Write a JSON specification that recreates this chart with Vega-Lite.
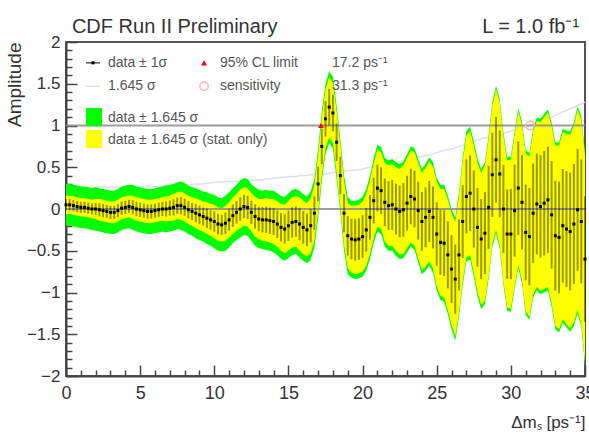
{
  "$schema": "https://vega.github.io/schema/vega-lite/v6.json",
  "width": 519,
  "height": 334,
  "autosize": {"type": "none"},
  "padding": {"left": 66, "top": 42, "right": 4, "bottom": 61},
  "background": "white",
  "config": {
    "view": {"stroke": "#555555", "strokeWidth": 2},
    "font": "Liberation Sans",
    "axisX": {"labelOverlap": false, "labelFlush": false, "labelBound": false, "labelFontSize": 18, "labelColor": "#333333", "labelPadding": 19, "tickColor": "#444444", "tickWidth": 1.5, "domainColor": "#444444", "domainWidth": 2, "grid": false, "titleFontSize": 17, "titleFontWeight": "normal", "titleColor": "#333333"},
    "axisY": {"labelOverlap": false, "labelFlush": false, "labelBound": false, "labelFontSize": 17, "labelColor": "#333333", "labelPadding": 17, "tickColor": "#444444", "tickWidth": 1.5, "domainColor": "#444444", "domainWidth": 2, "grid": false, "titleFontSize": 19, "titleFontWeight": "normal", "titleColor": "#333333"}
  },
  "datasets": {
    "scan": [
      {"d":0,"a":0.05,"g":0.25,"s":0.11,"e":0.067},
      {"d":0.25,"a":0.05,"g":0.25,"s":0.11,"e":0.067},
      {"d":0.5,"a":0.04,"g":0.25,"s":0.11,"e":0.067},
      {"d":0.75,"a":0.03,"g":0.25,"s":0.11,"e":0.067},
      {"d":1,"a":0.02,"g":0.25,"s":0.11,"e":0.067},
      {"d":1.25,"a":0.02,"g":0.25,"s":0.11,"e":0.067},
      {"d":1.5,"a":0.01,"g":0.25,"s":0.11,"e":0.067},
      {"d":1.75,"a":0.0,"g":0.25,"s":0.11,"e":0.067},
      {"d":2,"a":0.0,"g":0.26,"s":0.12,"e":0.073},
      {"d":2.25,"a":-0.01,"g":0.26,"s":0.13,"e":0.079},
      {"d":2.5,"a":-0.02,"g":0.26,"s":0.13,"e":0.079},
      {"d":2.75,"a":-0.03,"g":0.26,"s":0.13,"e":0.079},
      {"d":3,"a":-0.04,"g":0.26,"s":0.13,"e":0.079},
      {"d":3.25,"a":-0.04,"g":0.26,"s":0.13,"e":0.079},
      {"d":3.5,"a":-0.02,"g":0.26,"s":0.13,"e":0.079},
      {"d":3.75,"a":0.01,"g":0.26,"s":0.13,"e":0.079},
      {"d":4,"a":0.02,"g":0.26,"s":0.13,"e":0.079},
      {"d":4.25,"a":0.03,"g":0.26,"s":0.13,"e":0.079},
      {"d":4.5,"a":0.02,"g":0.27,"s":0.14,"e":0.085},
      {"d":4.75,"a":0.0,"g":0.27,"s":0.14,"e":0.085},
      {"d":5,"a":-0.01,"g":0.27,"s":0.14,"e":0.085},
      {"d":5.25,"a":-0.02,"g":0.27,"s":0.14,"e":0.085},
      {"d":5.5,"a":-0.03,"g":0.27,"s":0.14,"e":0.085},
      {"d":5.75,"a":-0.03,"g":0.27,"s":0.14,"e":0.085},
      {"d":6,"a":-0.02,"g":0.27,"s":0.14,"e":0.085},
      {"d":6.25,"a":-0.01,"g":0.27,"s":0.14,"e":0.085},
      {"d":6.5,"a":0.0,"g":0.27,"s":0.14,"e":0.085},
      {"d":6.75,"a":0.0,"g":0.28,"s":0.15,"e":0.091},
      {"d":7,"a":0.01,"g":0.28,"s":0.15,"e":0.091},
      {"d":7.25,"a":0.02,"g":0.28,"s":0.16,"e":0.097},
      {"d":7.5,"a":0.04,"g":0.28,"s":0.16,"e":0.097},
      {"d":7.75,"a":0.04,"g":0.29,"s":0.17,"e":0.103},
      {"d":8,"a":0.02,"g":0.29,"s":0.17,"e":0.103},
      {"d":8.25,"a":-0.01,"g":0.29,"s":0.17,"e":0.103},
      {"d":8.5,"a":-0.03,"g":0.29,"s":0.17,"e":0.103},
      {"d":8.75,"a":-0.05,"g":0.30,"s":0.18,"e":0.109},
      {"d":9,"a":-0.07,"g":0.30,"s":0.18,"e":0.109},
      {"d":9.25,"a":-0.09,"g":0.30,"s":0.18,"e":0.109},
      {"d":9.5,"a":-0.11,"g":0.31,"s":0.19,"e":0.116},
      {"d":9.75,"a":-0.13,"g":0.31,"s":0.19,"e":0.116},
      {"d":10,"a":-0.15,"g":0.32,"s":0.20,"e":0.122},
      {"d":10.25,"a":-0.18,"g":0.32,"s":0.20,"e":0.122},
      {"d":10.5,"a":-0.19,"g":0.32,"s":0.20,"e":0.122},
      {"d":10.75,"a":-0.17,"g":0.33,"s":0.21,"e":0.128},
      {"d":11,"a":-0.13,"g":0.33,"s":0.21,"e":0.128},
      {"d":11.25,"a":-0.08,"g":0.33,"s":0.22,"e":0.134},
      {"d":11.5,"a":-0.04,"g":0.33,"s":0.22,"e":0.134},
      {"d":11.75,"a":0.0,"g":0.34,"s":0.23,"e":0.14},
      {"d":12,"a":0.03,"g":0.34,"s":0.23,"e":0.14},
      {"d":12.25,"a":0.02,"g":0.34,"s":0.23,"e":0.14},
      {"d":12.5,"a":-0.04,"g":0.34,"s":0.23,"e":0.14},
      {"d":12.75,"a":-0.09,"g":0.35,"s":0.24,"e":0.146},
      {"d":13,"a":-0.12,"g":0.35,"s":0.24,"e":0.146},
      {"d":13.25,"a":-0.13,"g":0.35,"s":0.25,"e":0.152},
      {"d":13.5,"a":-0.13,"g":0.36,"s":0.26,"e":0.158},
      {"d":13.75,"a":-0.14,"g":0.36,"s":0.26,"e":0.158},
      {"d":14,"a":-0.15,"g":0.37,"s":0.27,"e":0.164},
      {"d":14.25,"a":-0.18,"g":0.37,"s":0.27,"e":0.164},
      {"d":14.5,"a":-0.22,"g":0.38,"s":0.28,"e":0.17},
      {"d":14.75,"a":-0.24,"g":0.38,"s":0.29,"e":0.176},
      {"d":15,"a":-0.2,"g":0.39,"s":0.30,"e":0.182},
      {"d":15.25,"a":-0.16,"g":0.39,"s":0.30,"e":0.182},
      {"d":15.5,"a":-0.15,"g":0.39,"s":0.30,"e":0.182},
      {"d":15.75,"a":-0.18,"g":0.40,"s":0.32,"e":0.195},
      {"d":16,"a":-0.22,"g":0.40,"s":0.32,"e":0.195},
      {"d":16.25,"a":-0.25,"g":0.40,"s":0.32,"e":0.195},
      {"d":16.5,"a":-0.2,"g":0.41,"s":0.33,"e":0.2},
      {"d":16.75,"a":-0.05,"g":0.41,"s":0.33,"e":0.2},
      {"d":17,"a":0.3,"g":0.42,"s":0.34,"e":0.207},
      {"d":17.25,"a":0.75,"g":0.42,"s":0.35,"e":0.213},
      {"d":17.5,"a":1.08,"g":0.42,"s":0.35,"e":0.213},
      {"d":17.75,"a":1.22,"g":0.43,"s":0.36,"e":0.219},
      {"d":18,"a":1.15,"g":0.43,"s":0.36,"e":0.219},
      {"d":18.25,"a":0.8,"g":0.44,"s":0.37,"e":0.225},
      {"d":18.5,"a":0.4,"g":0.44,"s":0.37,"e":0.225},
      {"d":18.75,"a":-0.05,"g":0.45,"s":0.38,"e":0.231},
      {"d":19,"a":-0.32,"g":0.46,"s":0.39,"e":0.237},
      {"d":19.25,"a":-0.36,"g":0.46,"s":0.40,"e":0.243},
      {"d":19.5,"a":-0.37,"g":0.47,"s":0.41,"e":0.249},
      {"d":19.75,"a":-0.36,"g":0.47,"s":0.41,"e":0.249},
      {"d":20,"a":-0.33,"g":0.48,"s":0.42,"e":0.255},
      {"d":20.25,"a":-0.25,"g":0.49,"s":0.43,"e":0.261},
      {"d":20.5,"a":-0.1,"g":0.50,"s":0.44,"e":0.267},
      {"d":20.75,"a":0.1,"g":0.51,"s":0.45,"e":0.274},
      {"d":21,"a":0.25,"g":0.52,"s":0.46,"e":0.28},
      {"d":21.25,"a":0.22,"g":0.52,"s":0.46,"e":0.28},
      {"d":21.5,"a":0.08,"g":0.53,"s":0.47,"e":0.286},
      {"d":21.75,"a":0.04,"g":0.54,"s":0.48,"e":0.292},
      {"d":22,"a":0.05,"g":0.55,"s":0.49,"e":0.298},
      {"d":22.25,"a":0.0,"g":0.56,"s":0.50,"e":0.304},
      {"d":22.5,"a":-0.03,"g":0.57,"s":0.51,"e":0.31},
      {"d":22.75,"a":-0.01,"g":0.58,"s":0.53,"e":0.322},
      {"d":23,"a":0.07,"g":0.59,"s":0.54,"e":0.328},
      {"d":23.25,"a":0.15,"g":0.60,"s":0.55,"e":0.334},
      {"d":23.5,"a":0.12,"g":0.61,"s":0.56,"e":0.34},
      {"d":23.75,"a":-0.02,"g":0.62,"s":0.57,"e":0.347},
      {"d":24,"a":-0.15,"g":0.63,"s":0.58,"e":0.353},
      {"d":24.25,"a":-0.1,"g":0.64,"s":0.59,"e":0.359},
      {"d":24.5,"a":-0.03,"g":0.65,"s":0.60,"e":0.365},
      {"d":24.75,"a":-0.1,"g":0.66,"s":0.61,"e":0.371},
      {"d":25,"a":-0.3,"g":0.675,"s":0.625,"e":0.38},
      {"d":25.25,"a":-0.4,"g":0.69,"s":0.64,"e":0.389},
      {"d":25.5,"a":-0.41,"g":0.70,"s":0.65,"e":0.395},
      {"d":25.75,"a":-0.55,"g":0.71,"s":0.66,"e":0.401},
      {"d":26,"a":-0.72,"g":0.72,"s":0.67,"e":0.407},
      {"d":26.25,"a":-0.84,"g":0.735,"s":0.685,"e":0.416},
      {"d":26.5,"a":-0.55,"g":0.75,"s":0.70,"e":0.426},
      {"d":26.75,"a":-0.15,"g":0.765,"s":0.715,"e":0.435},
      {"d":27,"a":0.15,"g":0.78,"s":0.73,"e":0.444},
      {"d":27.25,"a":0.19,"g":0.795,"s":0.745,"e":0.453},
      {"d":27.5,"a":0.0,"g":0.81,"s":0.76,"e":0.462},
      {"d":27.75,"a":-0.22,"g":0.825,"s":0.775,"e":0.471},
      {"d":28,"a":-0.36,"g":0.84,"s":0.79,"e":0.48},
      {"d":28.25,"a":-0.29,"g":0.85,"s":0.81,"e":0.492},
      {"d":28.5,"a":0.02,"g":0.86,"s":0.82,"e":0.498},
      {"d":28.75,"a":0.41,"g":0.87,"s":0.83,"e":0.505},
      {"d":29,"a":0.59,"g":0.885,"s":0.845,"e":0.514},
      {"d":29.25,"a":0.42,"g":0.895,"s":0.855,"e":0.52},
      {"d":29.5,"a":0.0,"g":0.91,"s":0.87,"e":0.529},
      {"d":29.75,"a":-0.3,"g":0.92,"s":0.88,"e":0.535},
      {"d":30,"a":-0.3,"g":0.93,"s":0.89,"e":0.541},
      {"d":30.25,"a":-0.02,"g":0.945,"s":0.905,"e":0.55},
      {"d":30.5,"a":0.25,"g":0.96,"s":0.92,"e":0.559},
      {"d":30.75,"a":0.08,"g":0.97,"s":0.93,"e":0.565},
      {"d":31,"a":-0.28,"g":0.985,"s":0.945,"e":0.574},
      {"d":31.25,"a":-0.33,"g":1.0,"s":0.96,"e":0.584},
      {"d":31.5,"a":-0.05,"g":1.017,"s":0.977,"e":0.594},
      {"d":31.75,"a":0.06,"g":1.033,"s":0.993,"e":0.604},
      {"d":32,"a":0.03,"g":1.05,"s":1.01,"e":0.614},
      {"d":32.25,"a":0.07,"g":1.07,"s":1.03,"e":0.626},
      {"d":32.5,"a":0.11,"g":1.085,"s":1.045,"e":0.635},
      {"d":32.75,"a":-0.07,"g":1.10,"s":1.06,"e":0.644},
      {"d":33,"a":-0.32,"g":1.12,"s":1.08,"e":0.657},
      {"d":33.25,"a":-0.34,"g":1.14,"s":1.10,"e":0.669},
      {"d":33.5,"a":-0.2,"g":1.16,"s":1.12,"e":0.681},
      {"d":33.75,"a":-0.24,"g":1.18,"s":1.14,"e":0.693},
      {"d":34,"a":-0.27,"g":1.20,"s":1.16,"e":0.705},
      {"d":34.25,"a":-0.18,"g":1.22,"s":1.18,"e":0.717},
      {"d":34.5,"a":-0.01,"g":1.24,"s":1.20,"e":0.729},
      {"d":34.75,"a":-0.15,"g":1.26,"s":1.22,"e":0.742},
      {"d":35,"a":-0.6,"g":1.28,"s":1.24,"e":0.754}
    ],
    "hl": [{"v": 0}, {"v": 1}],
    "legtext": [
      {"x": 2.83, "y": 1.75, "t": "data ± 1σ"},
      {"x": 2.83, "y": 1.47, "t": "1.645 σ"},
      {"x": 2.83, "y": 1.09, "t": "data ± 1.645 σ"},
      {"x": 2.83, "y": 0.83, "t": "data ± 1.645 σ (stat. only)"},
      {"x": 10.38, "y": 1.75, "t": "95% CL limit"},
      {"x": 10.38, "y": 1.47, "t": "sensitivity"},
      {"x": 17.94, "y": 1.75, "t": "17.2 ps⁻¹"},
      {"x": 17.94, "y": 1.47, "t": "31.3 ps⁻¹"}
    ]
  },
  "layer": [
    {
      "data": {"name": "scan"},
      "mark": {"type": "line", "color": "#dadef0", "strokeWidth": 1.5},
      "encoding": {
        "x": {"field": "d", "type": "quantitative", "title": "Δmₛ [ps⁻¹]", "scale": {"domain": [0, 35], "nice": false, "zero": false},
          "axis": {"title": "Δmₛ [ps⁻¹]", "titleAnchor": "end", "titlePadding": 7, "tickCount": 200,
            "values": [0,1,2,3,4,5,6,7,8,9,10,11,12,13,14,15,16,17,18,19,20,21,22,23,24,25,26,27,28,29,30,31,32,33,34,35],
            "format": "~g", "labelExpr": "datum.value % 5 === 0 ? datum.label : ''", "labelOverlap": false,
            "tickSize": {"condition": {"test": "datum.value % 5 === 0", "value": -11}, "value": -6}}},
        "y": {"field": "g", "type": "quantitative", "title": "Amplitude", "scale": {"domain": [-2, 2], "nice": false, "zero": false},
          "axis": {"title": "Amplitude", "titleAnchor": "end", "titleX": -42, "titleY": 0, "titleAlign": "right", "titleBaseline": "bottom", "tickCount": 200,
            "values": [-2,-1.9,-1.8,-1.7,-1.6,-1.5,-1.4,-1.3,-1.2,-1.1,-1,-0.9,-0.8,-0.7,-0.6,-0.5,-0.4,-0.3,-0.2,-0.1,0,0.1,0.2,0.3,0.4,0.5,0.6,0.7,0.8,0.9,1,1.1,1.2,1.3,1.4,1.5,1.6,1.7,1.8,1.9,2],
            "format": "~g", "labelExpr": "abs(datum.value*2 - round(datum.value*2)) < 0.01 ? datum.label : ''", "labelOverlap": false,
            "tickSize": {"condition": {"test": "abs(datum.value*2 - round(datum.value*2)) < 0.01", "value": -11}, "value": -6}}}
      }
    },
    {
      "data": {"name": "scan"},
      "mark": {"type": "errorband", "borders": false, "color": "#00ff00", "band": {"color": "#00ff00", "opacity": 1}},
      "encoding": {
        "x": {"field": "d", "type": "quantitative", "title": "Δmₛ [ps⁻¹]"},
        "y": {"field": "a", "type": "quantitative", "title": "Amplitude"},
        "yError": {"field": "g"}
      }
    },
    {
      "data": {"name": "scan"},
      "mark": {"type": "errorband", "borders": false, "color": "#ffff00", "band": {"color": "#ffff00", "opacity": 1}},
      "encoding": {
        "x": {"field": "d", "type": "quantitative", "title": "Δmₛ [ps⁻¹]"},
        "y": {"field": "a", "type": "quantitative", "title": "Amplitude"},
        "yError": {"field": "s"}
      }
    },
    {
      "data": {"name": "hl"},
      "mark": {"type": "rule", "color": "#8c8c8c", "strokeWidth": 2, "opacity": 0.85},
      "encoding": {"y": {"field": "v", "type": "quantitative", "title": "Amplitude"}}
    },
    {
      "data": {"name": "scan"},
      "mark": {"type": "errorbar", "ticks": false, "color": "#000000", "rule": {"color": "#000000", "opacity": 0.4, "strokeWidth": 2}},
      "encoding": {
        "x": {"field": "d", "type": "quantitative", "title": "Δmₛ [ps⁻¹]"},
        "y": {"field": "a", "type": "quantitative", "title": "Amplitude"},
        "yError": {"field": "e"}
      }
    },
    {
      "data": {"name": "scan"},
      "mark": {"type": "point", "shape": "square", "filled": true, "size": 9, "color": "#000000", "opacity": 1},
      "encoding": {
        "x": {"field": "d", "type": "quantitative", "title": "Δmₛ [ps⁻¹]"},
        "y": {"field": "a", "type": "quantitative", "title": "Amplitude"}
      }
    },
    {
      "data": {"values": [{"x": 17.2, "y": 1}, {"x": 9.31, "y": 1.75}]},
      "mark": {"type": "point", "shape": "triangle-up", "filled": true, "size": 35, "color": "#ff0000", "opacity": 1},
      "encoding": {"x": {"field": "x", "type": "quantitative", "title": "Δmₛ [ps⁻¹]"}, "y": {"field": "y", "type": "quantitative", "title": "Amplitude"}}
    },
    {
      "data": {"values": [{"x": 31.3, "y": 1}, {"x": 9.31, "y": 1.47}]},
      "mark": {"type": "point", "shape": "circle", "filled": false, "size": 70, "color": "#ffb0b0", "strokeWidth": 1.5, "opacity": 1},
      "encoding": {"x": {"field": "x", "type": "quantitative", "title": "Δmₛ [ps⁻¹]"}, "y": {"field": "y", "type": "quantitative", "title": "Amplitude"}}
    },
    {
      "data": {"values": [{"x": 1.35, "x2": 2.29, "y": 1.75}]},
      "mark": {"type": "rule", "color": "#000000", "strokeWidth": 1},
      "encoding": {"x": {"field": "x", "type": "quantitative", "title": "Δmₛ [ps⁻¹]"}, "x2": {"field": "x2"}, "y": {"field": "y", "type": "quantitative", "title": "Amplitude"}}
    },
    {
      "data": {"values": [{"x": 1.82, "y": 1.75}]},
      "mark": {"type": "point", "shape": "square", "filled": true, "size": 9, "color": "#000000", "opacity": 1},
      "encoding": {"x": {"field": "x", "type": "quantitative", "title": "Δmₛ [ps⁻¹]"}, "y": {"field": "y", "type": "quantitative", "title": "Amplitude"}}
    },
    {
      "data": {"values": [{"x": 1.35, "x2": 2.29, "y": 1.47}]},
      "mark": {"type": "rule", "color": "#dadef0", "strokeWidth": 1.5},
      "encoding": {"x": {"field": "x", "type": "quantitative", "title": "Δmₛ [ps⁻¹]"}, "x2": {"field": "x2"}, "y": {"field": "y", "type": "quantitative", "title": "Amplitude"}}
    },
    {
      "data": {"values": [{"x": 1.35, "x2": 2.43, "y": 1.21, "y2": 0.99}]},
      "mark": {"type": "rect", "color": "#00ff00"},
      "encoding": {"x": {"field": "x", "type": "quantitative", "title": "Δmₛ [ps⁻¹]"}, "x2": {"field": "x2"}, "y": {"field": "y", "type": "quantitative", "title": "Amplitude"}, "y2": {"field": "y2"}}
    },
    {
      "data": {"values": [{"x": 1.35, "x2": 2.43, "y": 0.946, "y2": 0.73}]},
      "mark": {"type": "rect", "color": "#ffff00"},
      "encoding": {"x": {"field": "x", "type": "quantitative", "title": "Δmₛ [ps⁻¹]"}, "x2": {"field": "x2"}, "y": {"field": "y", "type": "quantitative", "title": "Amplitude"}, "y2": {"field": "y2"}}
    },
    {
      "data": {"name": "legtext"},
      "mark": {"type": "text", "align": "left", "baseline": "middle", "fontSize": 14, "color": "#555555"},
      "encoding": {"x": {"field": "x", "type": "quantitative", "title": "Δmₛ [ps⁻¹]"}, "y": {"field": "y", "type": "quantitative", "title": "Amplitude"}, "text": {"field": "t"}}
    },
    {
      "data": {"values": [{"x": 0.4, "y": 2.11, "t": "CDF Run II Preliminary"}]},
      "mark": {"type": "text", "align": "left", "baseline": "alphabetic", "fontSize": 20, "color": "#333333"},
      "encoding": {"x": {"field": "x", "type": "quantitative", "title": "Δmₛ [ps⁻¹]"}, "y": {"field": "y", "type": "quantitative", "title": "Amplitude"}, "text": {"field": "t"}}
    },
    {
      "data": {"values": [{"x": 34.6, "y": 2.11, "t": "L = 1.0 fb⁻¹"}]},
      "mark": {"type": "text", "align": "right", "baseline": "alphabetic", "fontSize": 20, "color": "#333333"},
      "encoding": {"x": {"field": "x", "type": "quantitative", "title": "Δmₛ [ps⁻¹]"}, "y": {"field": "y", "type": "quantitative", "title": "Amplitude"}, "text": {"field": "t"}}
    }
  ]
}
